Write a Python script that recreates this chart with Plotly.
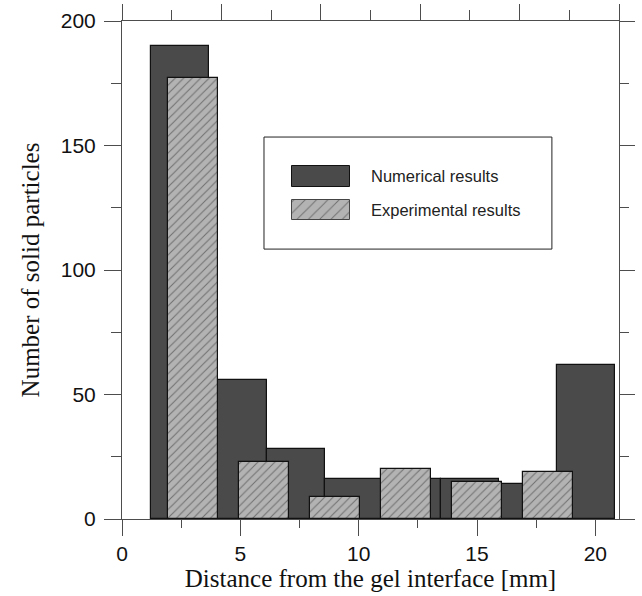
import plotly.graph_objects as go

# ---- data ----
num_x = [2.45, 4.90, 7.35, 9.80, 12.25, 14.70, 17.15, 19.60]
num_y = [190, 56, 28, 16, 16, 16, 14, 62]
num_width = 2.45

exp_x = [3, 6, 9, 12, 15, 18]
exp_y = [177, 23, 9, 20, 15, 19]
exp_width = 2.1

x_ticks = [0, 5, 10, 15, 20]
x_minor = [2.5, 7.5, 12.5, 17.5]
y_ticks = [0, 50, 100, 150, 200]
y_minor = [25, 75, 125, 175]
top_major = [0, 4.2, 8.4, 12.6, 16.8, 21]
top_minor = [2.1, 6.3, 10.5, 14.7, 18.9]

labels = ["Numerical results", "Experimental results"]

AX = "#4d4d4d"
DARK = "#4a4a4a"
LIGHT = "#b3b3b3"

fig = go.Figure()

fig.add_trace(go.Bar(
    x=num_x, y=num_y, width=[num_width] * len(num_x), name=labels[0],
    marker=dict(color=DARK, line=dict(color="#111111", width=1.2)),
    showlegend=False, xaxis="x", yaxis="y"))

fig.add_trace(go.Bar(
    x=exp_x, y=exp_y, width=[exp_width] * len(exp_x), name=labels[1],
    marker=dict(color=LIGHT, line=dict(color="#111111", width=1.2),
                pattern=dict(shape="/", fgcolor="#2e2e2e", bgcolor=LIGHT,
                             size=6, solidity=0.18)),
    showlegend=False, xaxis="x", yaxis="y"))

# empty trace so the mirrored top/right axes are rendered
fig.add_trace(go.Scatter(x=[None], y=[None], mode="markers",
                         showlegend=False, hoverinfo="skip",
                         xaxis="x2", yaxis="y2"))

# ---- custom legend (paper-like axis x3/y3 spanning the plot area) ----
sw_cx = 0.4004
sw_w = 0.1167
fig.add_trace(go.Bar(
    x=[sw_cx], y=[0.0421], base=[0.6667], width=[sw_w],
    marker=dict(color=DARK, line=dict(color="#111111", width=1)),
    showlegend=False, hoverinfo="skip", xaxis="x3", yaxis="y3"))
fig.add_trace(go.Bar(
    x=[sw_cx], y=[0.0402], base=[0.6004], width=[sw_w],
    marker=dict(color=LIGHT, line=dict(color="#444444", width=1),
                pattern=dict(shape="/", fgcolor="#2e2e2e", bgcolor=LIGHT,
                             size=8, solidity=0.12)),
    showlegend=False, hoverinfo="skip", xaxis="x3", yaxis="y3"))

fig.add_shape(type="rect", xref="paper", yref="paper",
              x0=0.2857, x1=0.865, y0=0.542, y1=0.767,
              line=dict(color="#222222", width=1), fillcolor="rgba(0,0,0,0)",
              layer="below")

for txt, yy in zip(labels, [0.688, 0.620]):
    fig.add_annotation(xref="paper", yref="paper", x=0.497, y=yy,
                       text=txt, showarrow=False, xanchor="left",
                       yanchor="middle",
                       font=dict(family="Liberation Sans", size=16.5,
                                 color="#222222"))

tick_font = dict(family="Liberation Sans", size=21, color="#111111")
title_font = dict(family="Liberation Serif", size=25, color="#111111")

fig.update_layout(
    width=642, height=596,
    margin=dict(l=122, r=23, t=21, b=77),
    paper_bgcolor="white", plot_bgcolor="white",
    barmode="overlay", bargap=0,
    showlegend=False,
    xaxis=dict(range=[0, 21], tickmode="array", tickvals=x_ticks,
               automargin=False,
               ticks="outside", ticklen=16, tickcolor=AX, tickwidth=1,
               showline=True, linecolor=AX, linewidth=1,
               showgrid=False, zeroline=False, tickfont=tick_font,
               minor=dict(tickmode="array", tickvals=x_minor,
                          ticks="outside", ticklen=8, tickcolor=AX),
               title=dict(text="Distance from the gel interface [mm]",
                          font=title_font, standoff=2)),
    xaxis2=dict(range=[0, 21], overlaying="x", side="top", anchor="y",
                automargin=False,
                tickmode="array", tickvals=top_major, showticklabels=False,
                ticks="outside", ticklen=16, tickcolor=AX,
                showline=True, linecolor=AX, linewidth=1,
                showgrid=False, zeroline=False,
                minor=dict(tickmode="array", tickvals=top_minor,
                           ticks="outside", ticklen=10, tickcolor=AX)),
    yaxis=dict(range=[0, 200], tickmode="array", tickvals=y_ticks,
               automargin=False,
               ticks="outside", ticklen=17, tickcolor=AX,
               showline=True, linecolor=AX, linewidth=1,
               showgrid=False, zeroline=False, tickfont=tick_font,
               ticklabelstandoff=4,
               minor=dict(tickmode="array", tickvals=y_minor,
                          ticks="outside", ticklen=10, tickcolor=AX),
               title=dict(text="Number of solid particles",
                          font=title_font, standoff=14)),
    yaxis2=dict(range=[0, 200], overlaying="y", side="right", anchor="x",
                automargin=False,
                tickmode="array", tickvals=y_ticks, showticklabels=False,
                ticks="outside", ticklen=15, tickcolor=AX,
                showline=True, linecolor=AX, linewidth=1,
                showgrid=False, zeroline=False,
                minor=dict(tickmode="array", tickvals=y_minor,
                           ticks="outside", ticklen=9, tickcolor=AX)),
    xaxis3=dict(range=[0, 1], overlaying="x", visible=False, fixedrange=True,
                automargin=False),
    yaxis3=dict(range=[0, 1], overlaying="y", visible=False, fixedrange=True,
                automargin=False),
)

fig.write_html("out.html")
